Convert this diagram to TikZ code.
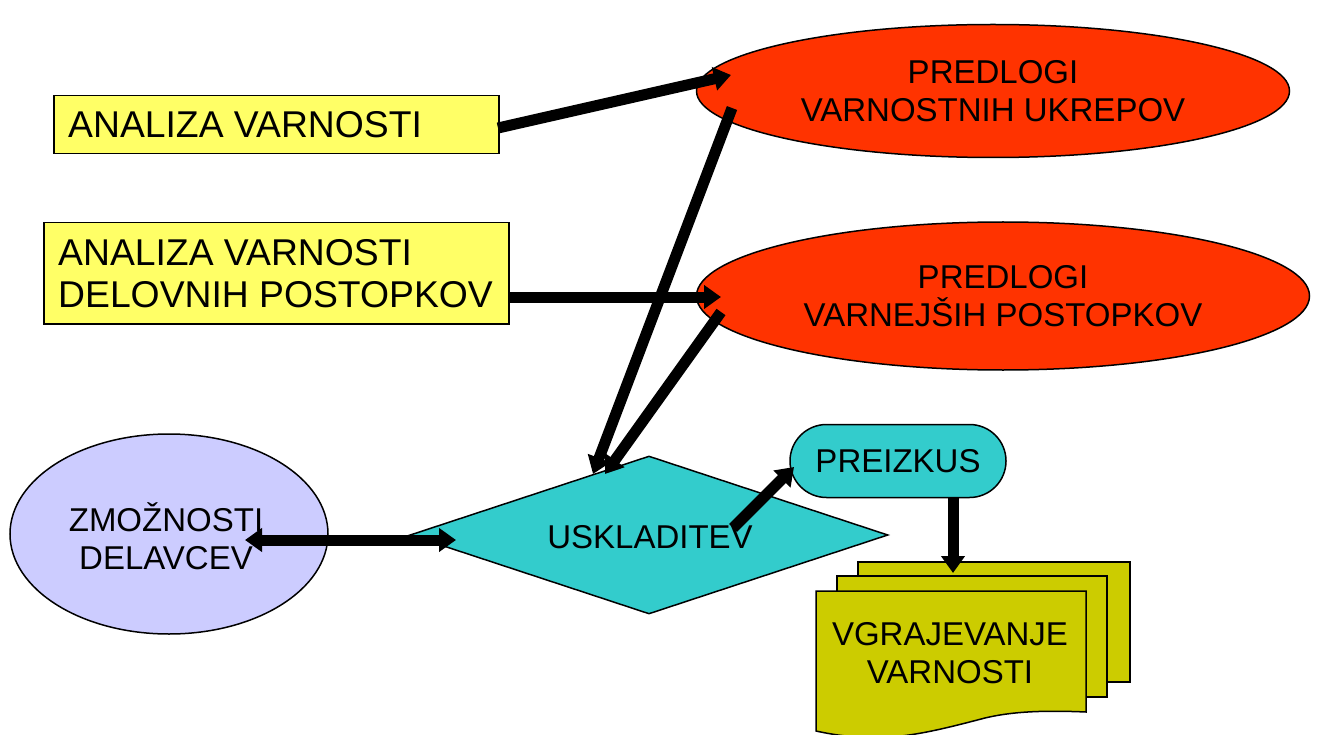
\documentclass[tikz,border=0pt]{standalone}
\usepackage{fontspec}
\setmainfont{Liberation Sans}
\usetikzlibrary{shapes.geometric,shapes.misc,arrows.meta}
\definecolor{boxyellow}{HTML}{FFFF66}
\definecolor{redfill}{HTML}{FF3300}
\definecolor{lilac}{HTML}{CCCCFF}
\definecolor{cyanfill}{HTML}{33CCCC}
\definecolor{olive}{HTML}{CCCC00}
\tikzset{
  ybox/.style={draw=black, line width=1.5pt, fill=boxyellow, anchor=north west, inner sep=0pt, font=\fontsize{37}{41}\selectfont},
  redell/.style={ellipse, draw=black, line width=1.5pt, fill=redfill, inner sep=0pt, align=center, font=\fontsize{33}{38}\selectfont},
  lilell/.style={ellipse, draw=black, line width=1.5pt, fill=lilac, inner sep=0pt, align=center, font=\fontsize{33}{38}\selectfont},
  dia/.style={diamond, draw=black, line width=1.5pt, fill=cyanfill, inner sep=0pt, font=\fontsize{33}{38}\selectfont},
  term/.style={rounded rectangle, draw=black, line width=1.5pt, fill=cyanfill, inner sep=0pt, font=\fontsize{33}{38}\selectfont},
  docsheet/.style={draw=black, line width=1.5pt, fill=olive},
  lbl/.style={font=\fontsize{33}{38}\selectfont, align=center, inner sep=0pt},
  fat/.style={line width=11pt, -{Triangle[length=17pt,width=23pt]}},
  fatboth/.style={line width=11pt, {Triangle[length=17pt,width=23pt]}-{Triangle[length=17pt,width=23pt]}},
}
\begin{document}
\begin{tikzpicture}[x=1pt,y=-1pt]
\useasboundingbox (0,0) rectangle (1319,735);
\clip (0,0) rectangle (1319,735);

% yellow boxes
\node[ybox, minimum width=445pt, minimum height=58pt] (b1) at (53,95) {};
\node[anchor=west, inner sep=0pt, font=\fontsize{37.3}{41}\selectfont] (t1) at (68,125) {ANALIZA VARNOSTI};
\node[ybox, minimum width=465pt, minimum height=101pt] (b2) at (43,222) {};
\node[anchor=west, inner sep=0pt, align=left, font=\fontsize{37.3}{42}\selectfont] (t2) at (58,274) {ANALIZA VARNOSTI\\DELOVNIH POSTOPKOV};

% red ellipses
\node[redell, minimum width=593pt, minimum height=133pt] (e1) at (993,91) {PREDLOGI\\VARNOSTNIH UKREPOV};
\node[redell, minimum width=613pt, minimum height=148pt] (e2) at (1003,296) {PREDLOGI\\VARNEJŠIH POSTOPKOV};

% lilac ellipse
\node[lilell, minimum width=318pt, minimum height=200pt] (e3) at (169,534) {};
\node[lbl] (t3) at (166,536) {ZMOŽNOSTI\\DELAVCEV};

% diamond
\node[dia, minimum width=478pt, minimum height=158pt] (d) at (649,535) {};
\node[lbl] (td) at (650,537) {USKLADITEV};

% terminator
\node[term, minimum width=216pt, minimum height=73pt] (p) at (898,461) {PREIZKUS};

% document stack
\draw[docsheet] (858,562) rectangle (1130,682);
\draw[docsheet] (837,576) rectangle (1107,697);
\draw[docsheet] (816,591) -- (1086,591) -- (1086,712)
  .. controls (1040,710) and (1010,712) .. (985,718)
  .. controls (920,735) and (880,745) .. (816,731) -- cycle;
\node[lbl] (tv) at (950,653) {VGRAJEVANJE\\VARNOSTI};

% connector end points
\coordinate (a1s) at (498,128);
\coordinate (a1e) at (731,75);
\coordinate (a2s) at (508,297);
\coordinate (a2e) at (721,297);
\coordinate (a3s) at (732,108);
\coordinate (a3e) at (593,474);
\coordinate (a4s) at (721,312);
\coordinate (a4e) at (605,474);
\coordinate (a5s) at (245,540);
\coordinate (a5e) at (456,540);
\coordinate (a6s) at (733,528);
\coordinate (a6e) at (794,467);
\coordinate (a7s) at (953,497);
\coordinate (a7e) at (953,573);

% connectors
\draw[fat] (a1s) -- (a1e);
\draw[fat] (a2s) -- (a2e);
\draw[fat] (a3s) -- (a3e);
\draw[fat] (a4s) -- (a4e);
\draw[fatboth] (a5s) -- (a5e);
\draw[fat] (a6s) -- (a6e);
\draw[fat] (a7s) -- (a7e);
\end{tikzpicture}
\end{document}
